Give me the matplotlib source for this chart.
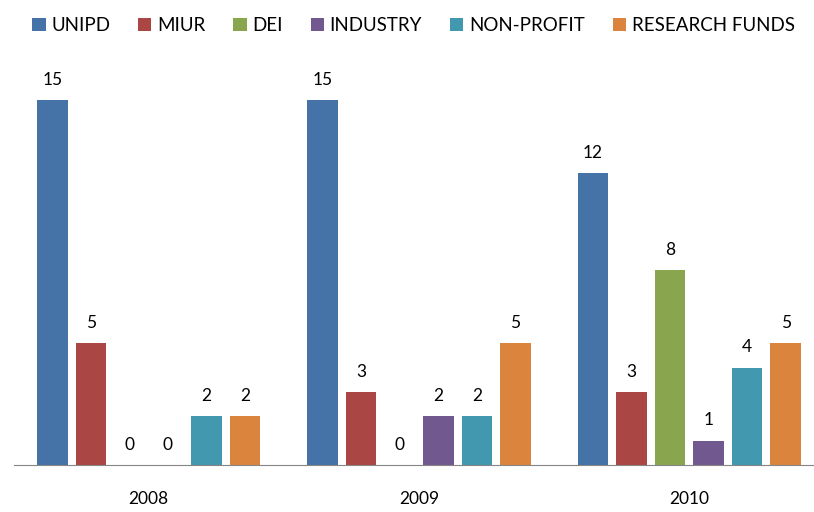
import numpy as np
import matplotlib.pyplot as plt

years = ['2008', '2009', '2010']
series = ['UNIPD', 'MIUR', 'DEI', 'INDUSTRY', 'NON-PROFIT', 'RESEARCH FUNDS']
unipd = [15, 15, 12]
miur = [5, 3, 3]
dei = [0, 0, 8]
industry = [0, 2, 1]
non_profit = [2, 2, 4]
research_funds = [2, 5, 5]
colors = ['#4572A7', '#AA4643', '#89A54E', '#71588F', '#4198AF', '#DB843D']

plt.rcParams['font.family'] = ['Lato', 'DejaVu Sans']

fig = plt.figure(figsize=(8.14, 5.12), dpi=100)
ax = fig.add_axes([13.5 / 814, 47 / 512, 811 / 814, 420 / 512])

x = np.arange(len(years))
step = 0.1425
width = 0.113
values = [unipd, miur, dei, industry, non_profit, research_funds]
for i, (name, vals) in enumerate(zip(series, values)):
    pos = x + (i - 2.5) * step
    ax.bar(pos, vals, width, color=colors[i], label=name)
    for p, v in zip(pos, vals):
        ax.annotate(str(v), (p, v), xytext=(0, 9), textcoords='offset points',
                    ha='center', va='bottom', fontsize=12.5)

ax.set_xlim(-0.5, 2.5)
ax.set_ylim(0, 420 / 24.33)
ax.set_yticks([])
ax.set_xticks(x)
ax.set_xticklabels(years, fontsize=12.5)
ax.tick_params(axis='x', length=0, pad=19)
for s in ['top', 'right', 'left']:
    ax.spines[s].set_visible(False)
ax.spines['bottom'].set_color('#868686')

fig.legend(loc='upper center', bbox_to_anchor=(0.508, 1.0), ncol=6, frameon=False,
           fontsize=13.5, handlelength=0.7, handleheight=0.7, handletextpad=0.3,
           columnspacing=1.5)

plt.savefig('out.png', dpi=100)
